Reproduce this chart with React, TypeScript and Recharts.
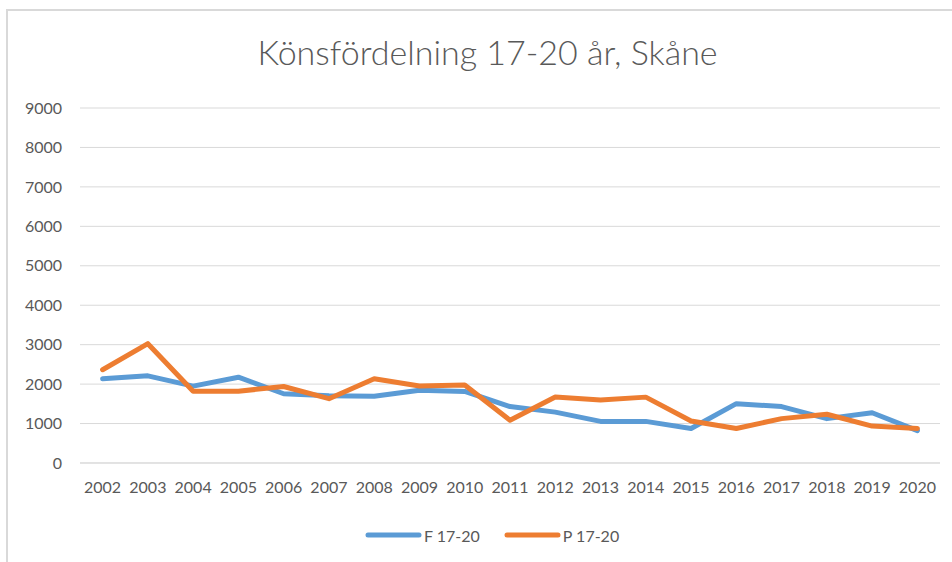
import React from 'react';
import { LineChart, Line, XAxis, YAxis, CartesianGrid, Legend } from 'recharts';

const years = ['2002','2003','2004','2005','2006','2007','2008','2009','2010','2011','2012','2013','2014','2015','2016','2017','2018','2019','2020'];
const fValues = [2135, 2210, 1950, 2175, 1755, 1705, 1690, 1845, 1815, 1430, 1290, 1055, 1055, 875, 1505, 1430, 1125, 1275, 820];
const pValues = [2365, 3025, 1820, 1820, 1940, 1630, 2135, 1950, 1975, 1085, 1675, 1595, 1670, 1065, 875, 1125, 1235, 935, 875];
const yTicks = [0, 1000, 2000, 3000, 4000, 5000, 6000, 7000, 8000, 9000];
const seriesNames = ['F 17-20', 'P 17-20'];
const colors = ['#5B9BD5', '#ED7D31'];

const data = years.map((y, i) => ({ year: y, f: fValues[i], p: pValues[i] }));

const FONT = 'Lato, "Open Sans", sans-serif';
const TEXT = '#595959';

const LegendContent = () => (
  <div style={{ display: 'flex', alignItems: 'center', height: 30, paddingLeft: 365, fontFamily: FONT, fontSize: 16, color: TEXT }}>
    {seriesNames.map((n, i) => (
      <div key={n} style={{ display: 'flex', alignItems: 'center', marginRight: 24 }}>
        <svg width={57} height={8} style={{ display: 'block' }}>
          <line x1={3} y1={4} x2={54} y2={4} stroke={colors[i]} strokeWidth={5} strokeLinecap="round" />
        </svg>
        <span style={{ marginLeft: 2 }}>{n}</span>
      </div>
    ))}
  </div>
);

export default function App() {
  return (
    <div style={{ position: 'absolute', left: 0, top: 0, width: 952, height: 562, overflow: 'hidden', background: '#fff' }}>
      <div style={{ position: 'absolute', left: 6, top: 9, width: 1000, height: 600, borderTop: '2px solid #d9d9d9', borderLeft: '2px solid #d9d9d9' }} />
      <div style={{ position: 'absolute', left: 0, top: 29, width: 975, textAlign: 'center', fontFamily: FONT, fontSize: 34, fontWeight: 300, color: TEXT, lineHeight: '46px' }}>
        Könsfördelning 17-20 år, Skåne
      </div>
      <div style={{ position: 'absolute', left: 0, top: 0 }}>
        <LineChart width={952} height={562} data={data} margin={{ top: 108, right: 12, left: 0, bottom: 12 }}>
          <CartesianGrid vertical={false} stroke="#d9d9d9" strokeWidth={1} />
          <XAxis dataKey="year" height={57} padding={{ left: 22.6, right: 22.6 }} tickLine={false} tickSize={0} tickMargin={19} axisLine={{ stroke: '#d9d9d9' }} tick={{ fill: TEXT, fontSize: 16, fontFamily: FONT }} interval={0} />
          <YAxis width={80} domain={[0, 9000]} ticks={yTicks} tickLine={false} axisLine={false} tickSize={0} tickMargin={18} tick={{ fill: TEXT, fontSize: 16, fontFamily: FONT }} />
          <Legend verticalAlign="bottom" wrapperStyle={{ left: 0, width: 952 }} content={<LegendContent />} />
          <Line dataKey="f" name={seriesNames[0]} stroke={colors[0]} strokeWidth={5} dot={false} isAnimationActive={false} strokeLinejoin="round" strokeLinecap="round" />
          <Line dataKey="p" name={seriesNames[1]} stroke={colors[1]} strokeWidth={5} dot={false} isAnimationActive={false} strokeLinejoin="round" strokeLinecap="round" />
        </LineChart>
      </div>
    </div>
  );
}
